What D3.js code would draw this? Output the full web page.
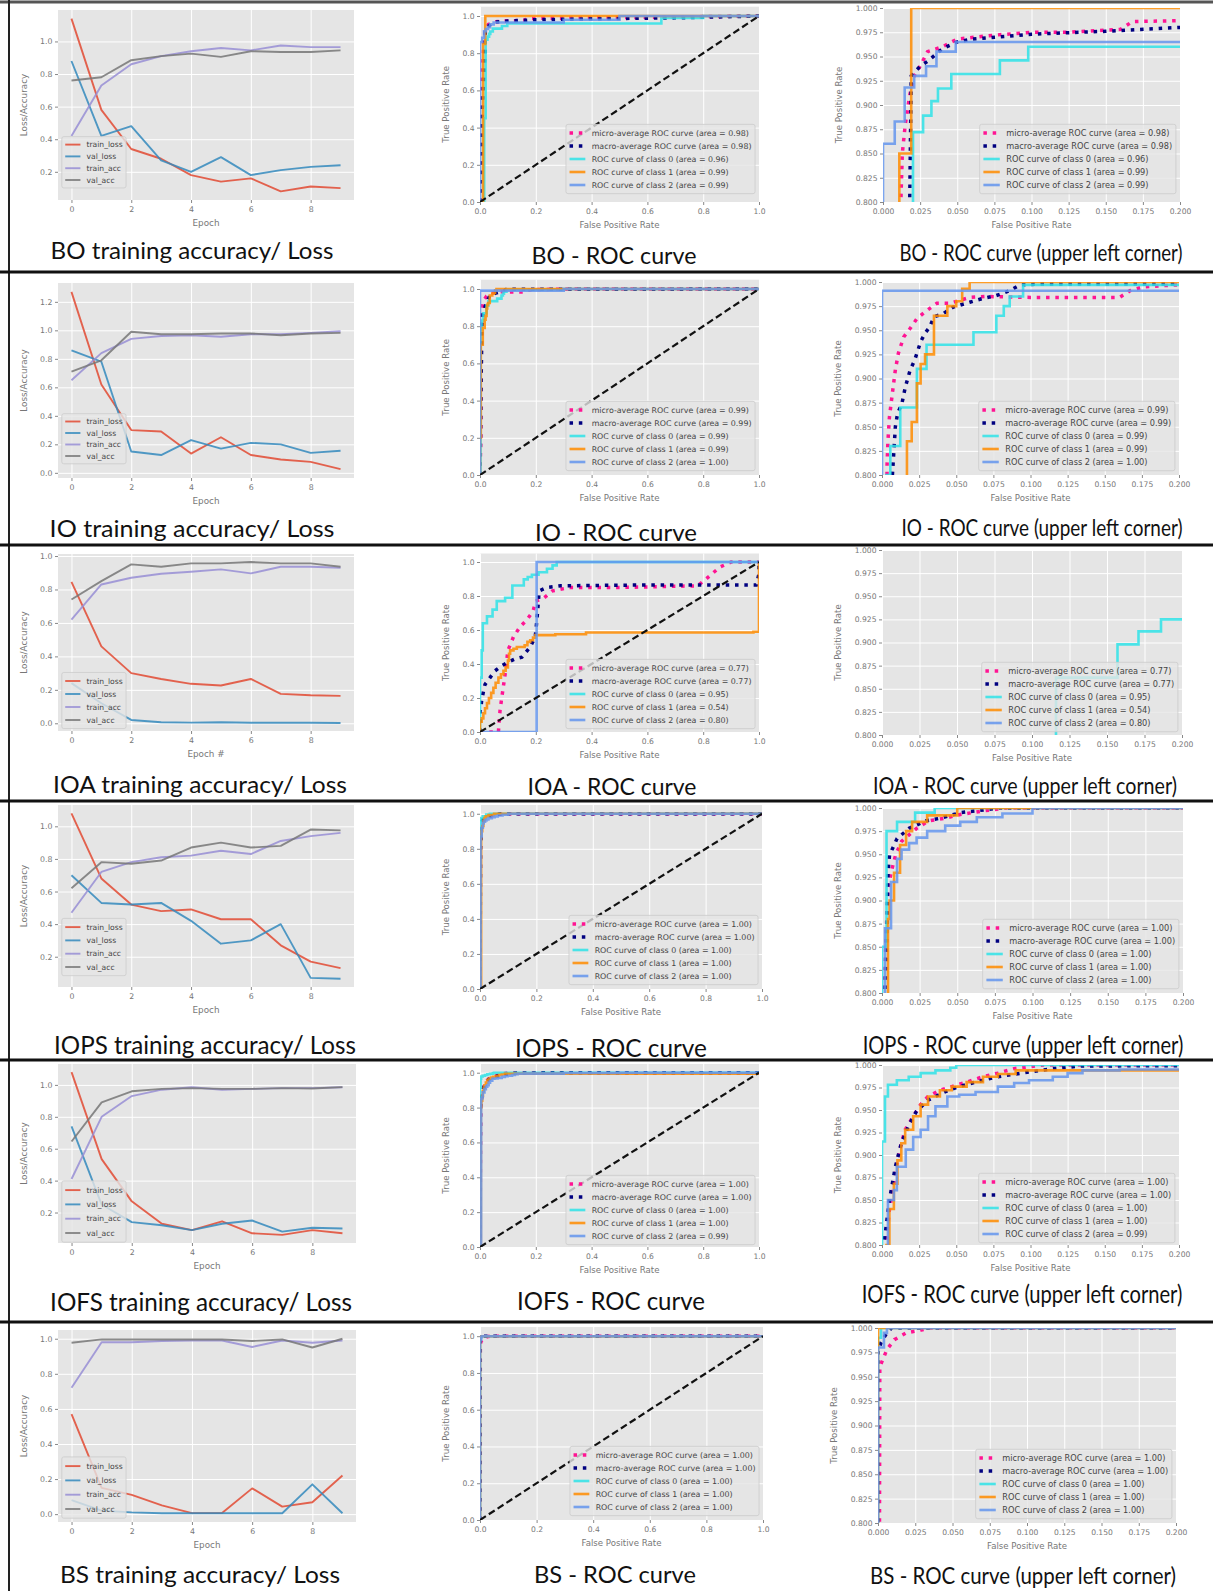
<!DOCTYPE html>
<html>
<head>
<meta charset="utf-8">
<script src="https://cdn.jsdelivr.net/npm/d3@7"></script>
<style>
  body { margin: 0; background: #fff; }
  svg text { font-family: "DejaVu Sans", sans-serif; }
  svg text.caption { font-family: Lato, "Open Sans", sans-serif; }
</style>
</head>
<body>
<svg id="fig"></svg>
<script>
// ---------------------------------------------------------------
// données : courbes loss / accuracy (10 epochs)
const epochs = d3.range(10);
const lossNames = ["train_loss", "val_loss", "train_acc", "val_acc"];

const boTrainLoss = [1.14, 0.58, 0.34, 0.28, 0.18, 0.14, 0.16, 0.08, 0.11, 0.10];
const boValLoss   = [0.88, 0.42, 0.48, 0.27, 0.20, 0.29, 0.18, 0.21, 0.23, 0.24];
const boTrainAcc  = [0.42, 0.73, 0.86, 0.91, 0.94, 0.96, 0.945, 0.975, 0.965, 0.965];
const boValAcc    = [0.76, 0.78, 0.885, 0.91, 0.925, 0.905, 0.94, 0.935, 0.935, 0.945];

const ioTrainLoss = [1.27, 0.62, 0.30, 0.29, 0.135, 0.25, 0.125, 0.094, 0.077, 0.026];
const ioValLoss   = [0.86, 0.78, 0.15, 0.125, 0.23, 0.17, 0.21, 0.20, 0.14, 0.155];
const ioTrainAcc  = [0.65, 0.84, 0.94, 0.96, 0.966, 0.955, 0.973, 0.973, 0.982, 0.994];
const ioValAcc    = [0.71, 0.79, 0.99, 0.973, 0.973, 0.978, 0.978, 0.966, 0.978, 0.982];

const ioaTrainLoss = [0.845, 0.46, 0.30, 0.265, 0.236, 0.226, 0.265, 0.176, 0.168, 0.164];
const ioaValLoss   = [0.24, 0.12, 0.02, 0.006, 0.004, 0.006, 0.003, 0.003, 0.003, 0.002];
const ioaTrainAcc  = [0.62, 0.83, 0.87, 0.894, 0.906, 0.92, 0.896, 0.936, 0.936, 0.93];
const ioaValAcc    = [0.74, 0.85, 0.95, 0.936, 0.956, 0.956, 0.964, 0.956, 0.956, 0.936];

const iopsTrainLoss = [1.08, 0.68, 0.52, 0.48, 0.49, 0.43, 0.43, 0.27, 0.17, 0.13];
const iopsValLoss   = [0.70, 0.53, 0.52, 0.53, 0.42, 0.28, 0.30, 0.40, 0.07, 0.065];
const iopsTrainAcc  = [0.47, 0.72, 0.78, 0.81, 0.82, 0.85, 0.83, 0.91, 0.94, 0.96];
const iopsValAcc    = [0.62, 0.78, 0.77, 0.79, 0.87, 0.90, 0.87, 0.88, 0.98, 0.975];

const iofsTrainLoss = [1.08, 0.535, 0.27, 0.13, 0.09, 0.145, 0.07, 0.06, 0.09, 0.07];
const iofsValLoss   = [0.74, 0.25, 0.14, 0.12, 0.09, 0.13, 0.15, 0.08, 0.105, 0.10];
const iofsTrainAcc  = [0.41, 0.80, 0.93, 0.97, 0.985, 0.97, 0.975, 0.98, 0.98, 0.985];
const iofsValAcc    = [0.645, 0.89, 0.96, 0.975, 0.98, 0.975, 0.975, 0.98, 0.977, 0.986];

const bsTrainLoss = [0.57, 0.15, 0.11, 0.05, 0.006, 0.006, 0.147, 0.043, 0.068, 0.22];
const bsValLoss   = [0.08, 0.02, 0.01, 0.005, 0.005, 0.005, 0.005, 0.005, 0.17, 0.005];
const bsTrainAcc  = [0.72, 0.98, 0.98, 0.987, 0.99, 0.99, 0.953, 0.99, 0.977, 0.99];
const bsValAcc    = [0.977, 0.996, 0.996, 0.996, 0.996, 0.996, 0.987, 0.996, 0.95, 1.0];

// ---------------------------------------------------------------
// données : courbes ROC [fpr, tpr]
// micro / macro : points reliés ; classes : marches (point = haut de la marche)
const boMicro = [[0,0],[0.004,0.4],[0.008,0.7],[0.012,0.8],[0.013,0.85],[0.015,0.88],[0.018,0.91],[0.021,0.93],[0.025,0.94],[0.03,0.955],[0.04,0.96],[0.05,0.968],[0.075,0.972],[0.1,0.975],[0.125,0.975],[0.16,0.978],[0.168,0.986],[0.2,0.987],[0.4,0.99],[0.7,0.995],[1,1]];
const boMacro = [[0,0],[0.008,0.5],[0.018,0.8],[0.019,0.93],[0.025,0.94],[0.03,0.945],[0.04,0.958],[0.05,0.965],[0.06,0.968],[0.1,0.973],[0.15,0.976],[0.2,0.98],[0.4,0.985],[0.7,0.99],[1,1]];
const boClass0 = [[0,0],[0.015,0.45],[0.0202,0.872],[0.027,0.889],[0.0326,0.904],[0.037,0.917],[0.046,0.932],[0.0787,0.946],[0.0978,0.96],[0.65,0.99],[0.8,1],[1,1]];
const boClass1 = [[0,0],[0.011,0.85],[0.019,1],[1,1]];
const boClass2 = [[0,0],[0,0.86],[0.0079,0.883],[0.0146,0.918],[0.021,0.93],[0.029,0.94],[0.036,0.955],[0.049,0.965],[0.3,0.98],[0.5,1],[1,1]];
const boAreas = ["0.98", "0.98", "0.96", "0.99", "0.99"];

const ioMicro = [[0,0],[0.003,0.2],[0.003,0.6],[0.0034,0.81],[0.004,0.835],[0.005,0.86],[0.007,0.885],[0.009,0.909],[0.011,0.926],[0.0146,0.943],[0.019,0.952],[0.0235,0.962],[0.029,0.969],[0.037,0.978],[0.046,0.978],[0.059,0.984],[0.07,0.985],[0.1,0.984],[0.16,0.984],[0.167,0.991],[0.176,0.995],[0.198,0.997],[0.35,1],[1,1]];
const ioMacro = [[0,0],[0.004,0.5],[0.007,0.8],[0.009,0.85],[0.0105,0.864],[0.0134,0.874],[0.0157,0.891],[0.019,0.909],[0.022,0.919],[0.026,0.938],[0.029,0.947],[0.032,0.953],[0.035,0.964],[0.041,0.967],[0.048,0.974],[0.059,0.979],[0.068,0.983],[0.077,0.986],[0.086,0.991],[0.093,0.997],[0.109,0.998],[0.2,0.998],[1,1]];
const ioClass0 = [[0,0],[0.002,0.78],[0.003,0.8],[0.0056,0.83],[0.0123,0.87],[0.0235,0.91],[0.03,0.935],[0.0616,0.948],[0.077,0.965],[0.082,0.975],[0.086,0.985],[0.095,0.997],[0.3,1],[1,1]];
const ioClass1 = [[0,0],[0,0.2],[0.003,0.7],[0.01,0.79],[0.0168,0.835],[0.02,0.855],[0.0235,0.895],[0.026,0.915],[0.029,0.925],[0.035,0.965],[0.044,0.975],[0.05,0.98],[0.054,0.993],[0.059,1],[1,1]];
const ioClass2 = [[0,0],[0,0.991],[0.3,1],[1,1]];
const ioAreas = ["0.99", "0.99", "0.99", "0.99", "1.00"];

const ioaMicro = [[0,0],[0.066,0],[0.068,0.05],[0.072,0.13],[0.078,0.2],[0.09,0.34],[0.1,0.48],[0.12,0.56],[0.144,0.62],[0.168,0.66],[0.19,0.71],[0.2,0.77],[0.23,0.79],[0.26,0.83],[0.32,0.85],[0.5,0.85],[0.78,0.86],[0.81,0.9],[0.86,0.97],[0.9,1],[1,1]];
const ioaMacro = [[0,0],[0,0.12],[0.004,0.15],[0.006,0.19],[0.018,0.28],[0.036,0.32],[0.054,0.36],[0.078,0.39],[0.1,0.41],[0.126,0.43],[0.15,0.44],[0.18,0.5],[0.198,0.56],[0.204,0.66],[0.208,0.74],[0.212,0.83],[0.24,0.85],[0.29,0.86],[0.6,0.865],[0.99,0.865],[1,0.93],[1,1]];
const ioaClass0 = [[0,0],[0,0.32],[0.006,0.48],[0.01,0.64],[0.025,0.68],[0.045,0.72],[0.06,0.77],[0.09,0.79],[0.116,0.862],[0.157,0.898],[0.171,0.912],[0.186,0.925],[0.21,0.94],[0.24,0.96],[0.26,0.98],[0.275,1],[1,1]];
const ioaClass1 = [[0,0],[0,0.06],[0.006,0.08],[0.012,0.11],[0.018,0.14],[0.025,0.17],[0.032,0.2],[0.04,0.23],[0.048,0.26],[0.056,0.29],[0.066,0.32],[0.075,0.34],[0.084,0.36],[0.092,0.38],[0.1,0.42],[0.104,0.46],[0.108,0.48],[0.12,0.49],[0.132,0.5],[0.16,0.51],[0.17,0.53],[0.18,0.54],[0.19,0.555],[0.198,0.57],[0.27,0.575],[0.38,0.585],[0.98,0.59],[1,0.6],[1,1]];
const ioaClass2 = [[0,0],[0.192,0],[0.203,0.03],[0.203,1],[1,1]];
const ioaAreas = ["0.77", "0.77", "0.95", "0.54", "0.80"];

const iopsMicro = [[0,0],[0.0015,0.8],[0.0026,0.857],[0.004,0.912],[0.006,0.93],[0.009,0.949],[0.013,0.964],[0.018,0.971],[0.023,0.978],[0.031,0.986],[0.042,0.989],[0.052,0.993],[0.068,0.997],[0.083,1],[1,1]];
const iopsMacro = [[0,0],[0.002,0.8],[0.003,0.85],[0.004,0.93],[0.005,0.949],[0.01,0.967],[0.018,0.978],[0.029,0.986],[0.039,0.989],[0.052,0.995],[0.063,0.997],[0.078,1],[1,1]];
const iopsClass0 = [[0,0],[0,0.85],[0.003,0.975],[0.01,0.985],[0.022,0.995],[0.035,1],[1,1]];
const iopsClass1 = [[0,0],[0.004,0.88],[0.005,0.9],[0.008,0.93],[0.012,0.96],[0.016,0.975],[0.02,0.985],[0.03,0.992],[0.05,1],[1,1]];
const iopsClass2 = [[0,0],[0.002,0.87],[0.006,0.92],[0.01,0.945],[0.013,0.955],[0.018,0.962],[0.023,0.968],[0.03,0.975],[0.042,0.981],[0.052,0.985],[0.063,0.99],[0.08,0.994],[0.1,1],[1,1]];
const iopsAreas = ["1.00", "1.00", "1.00", "1.00", "1.00"];

const iofsMicro = [[0,0],[0.0015,0.5],[0.0026,0.8],[0.005,0.839],[0.008,0.868],[0.0104,0.894],[0.013,0.913],[0.0156,0.928],[0.021,0.943],[0.026,0.956],[0.031,0.965],[0.039,0.972],[0.047,0.976],[0.057,0.981],[0.068,0.987],[0.078,0.991],[0.089,0.996],[0.109,1],[1,1]];
const iofsMacro = [[0,0],[0.001,0.5],[0.0016,0.805],[0.005,0.85],[0.009,0.887],[0.013,0.913],[0.018,0.933],[0.023,0.948],[0.031,0.961],[0.042,0.97],[0.052,0.976],[0.063,0.981],[0.078,0.987],[0.094,0.991],[0.115,0.996],[0.135,0.999],[1,1]];
const iofsClass0 = [[0,0],[0,0.915],[0.002,0.965],[0.004,0.978],[0.01,0.983],[0.018,0.987],[0.026,0.991],[0.036,0.994],[0.046,0.997],[0.05,1],[1,1]];
const iofsClass1 = [[0,0],[0.003,0.8],[0.005,0.84],[0.008,0.868],[0.0104,0.894],[0.013,0.913],[0.0156,0.928],[0.021,0.943],[0.026,0.956],[0.031,0.965],[0.039,0.972],[0.047,0.976],[0.057,0.981],[0.068,0.987],[0.078,0.99],[0.09,0.994],[1,1]];
const iofsClass2 = [[0,0],[0.004,0.85],[0.008,0.861],[0.01,0.887],[0.016,0.906],[0.021,0.92],[0.026,0.928],[0.031,0.943],[0.036,0.954],[0.044,0.965],[0.052,0.967],[0.063,0.97],[0.078,0.976],[0.089,0.98],[0.099,0.983],[0.115,0.987],[0.125,0.991],[0.135,0.994],[0.16,0.995],[0.3,0.998],[0.5,1],[1,1]];
const iofsAreas = ["1.00", "1.00", "1.00", "1.00", "0.99"];

const bsMicro = [[0,0],[0.0012,0.96],[0.0036,0.969],[0.006,0.978],[0.011,0.988],[0.019,0.995],[0.029,0.998],[0.035,1],[1,1]];
const bsMacro = [[0,0],[0,0.975],[0.002,0.985],[0.006,0.995],[0.009,1],[1,1]];
const bsClass0 = [[0,0],[0,0.99],[0.002,1],[1,1]];
const bsClass1 = [[0,0],[0,1],[1,1]];
const bsClass2 = [[0,0],[0,0.98],[0.004,0.995],[0.006,1],[1,1]];
const bsAreas = ["1.00", "1.00", "1.00", "1.00", "1.00"];

const rows = [
  { name: "BO",   xlabel: "Epoch",   loss: [boTrainLoss, boValLoss, boTrainAcc, boValAcc],         roc: [boMicro, boMacro, boClass0, boClass1, boClass2],         areas: boAreas },
  { name: "IO",   xlabel: "Epoch",   loss: [ioTrainLoss, ioValLoss, ioTrainAcc, ioValAcc],         roc: [ioMicro, ioMacro, ioClass0, ioClass1, ioClass2],         areas: ioAreas },
  { name: "IOA",  xlabel: "Epoch #", loss: [ioaTrainLoss, ioaValLoss, ioaTrainAcc, ioaValAcc],     roc: [ioaMicro, ioaMacro, ioaClass0, ioaClass1, ioaClass2],    areas: ioaAreas },
  { name: "IOPS", xlabel: "Epoch",   loss: [iopsTrainLoss, iopsValLoss, iopsTrainAcc, iopsValAcc], roc: [iopsMicro, iopsMacro, iopsClass0, iopsClass1, iopsClass2], areas: iopsAreas },
  { name: "IOFS", xlabel: "Epoch",   loss: [iofsTrainLoss, iofsValLoss, iofsTrainAcc, iofsValAcc], roc: [iofsMicro, iofsMacro, iofsClass0, iofsClass1, iofsClass2], areas: iofsAreas },
  { name: "BS",   xlabel: "Epoch",   loss: [bsTrainLoss, bsValLoss, bsTrainAcc, bsValAcc],         roc: [bsMicro, bsMacro, bsClass0, bsClass1, bsClass2],         areas: bsAreas }
];

// ---------------------------------------------------------------
// mise en page (pixels) : [gauche, droite, haut, bas] de chaque zone grise
// caps : [centre x, ligne de base, largeur] des légendes sous les images
const layout = [
  { loss: [58, 354, 10, 200],    lossLeg: [20, 11.8], roc: [480, 759, 6.7, 202],   zoom: [883, 1180, 8, 202],     rocLeg: 17, capSize: 24,
    caps: [[192, 259, 283], [614, 264, 165], [1041, 261, 283]] },
  { loss: [58, 354, 283, 478],   lossLeg: [22, 11.5], roc: [480, 759, 279.7, 475], zoom: [882, 1179, 282, 475],   rocLeg: 13, capSize: 24,
    caps: [[192, 537, 285], [616, 541, 162], [1042, 536, 281]] },
  { loss: [58, 354, 554, 731],   lossLeg: [11, 13],   roc: [480, 759, 553.5, 732], zoom: [882, 1182, 550, 735],   rocLeg: 12, capSize: 24,
    caps: [[200, 793, 294], [612, 795, 169], [1025, 794, 304]] },
  { loss: [58, 354, 805, 987],   lossLeg: [20, 13.3], roc: [480, 762, 805, 989],   zoom: [882, 1183, 808, 993],   rocLeg: 13, capSize: 25,
    caps: [[205, 1054, 302], [611, 1057, 192], [1023, 1054, 321]] },
  { loss: [58, 356, 1064, 1243], lossLeg: [10, 14.3], roc: [480, 759, 1064, 1247], zoom: [882, 1179, 1065, 1245], rocLeg: 11, capSize: 25,
    caps: [[201, 1311, 302], [611, 1310, 188], [1022, 1303, 321]] },
  { loss: [58, 356, 1330, 1522], lossLeg: [13, 14.3], roc: [480, 763, 1327, 1520], zoom: [878, 1176, 1328, 1523], rocLeg: 13, capSize: 24,
    caps: [[200, 1583, 280], [615, 1583, 162], [1023, 1584, 306]] }
];
const separators = [272, 545, 801, 1060, 1322];

const lossColors = ["#E24A33", "#348ABD", "#988ED5", "#777777"];
const rocStyles = [
  { color: "deeppink",       width: 3.5, dash: "3.5,5.8", step: false, label: "micro-average ROC curve" },
  { color: "navy",           width: 3.5, dash: "3.5,5.8", step: false, label: "macro-average ROC curve" },
  { color: "#2fe3e8",        width: 2.6, dash: null,      step: true,  label: "ROC curve of class 0" },
  { color: "darkorange",     width: 2.6, dash: null,      step: true,  label: "ROC curve of class 1" },
  { color: "cornflowerblue", width: 2.6, dash: null,      step: true,  label: "ROC curve of class 2" }
];

const W = 1213, H = 1591;
const svg = d3.select("#fig").attr("width", W).attr("height", H);
svg.append("rect").attr("width", W).attr("height", H).attr("fill", "#fff");

let clipCount = 0;

// création d'une zone de tracé (fond gris + grille + groupe clippé)
function panel(box, xDomain, yDomain) {
  const [l, r, t, b] = box;
  const x = d3.scaleLinear().domain(xDomain).range([l, r]);
  const y = d3.scaleLinear().domain(yDomain).range([b, t]);
  const g = svg.append("g");
  g.append("rect")
    .attr("x", l).attr("y", t)
    .attr("width", r - l).attr("height", b - t)
    .attr("fill", "#E5E5E5");
  const id = "clip" + (clipCount++);
  g.append("clipPath").attr("id", id)
    .append("rect")
    .attr("x", l).attr("y", t)
    .attr("width", r - l).attr("height", b - t);
  const grid = g.append("g");
  const plot = g.append("g").attr("clip-path", `url(#${id})`);
  return { g, grid, plot, x, y, box };
}

// axes, grille et titres d'axes
function axes(p, xt, yt, fx, fy, xlabel, ylabel, fs, ylabOff) {
  const { g, grid, x, y, box: [l, r, t, b] } = p;

  grid.append("g")
    .attr("transform", `translate(0,${b})`)
    .call(d3.axisBottom(x).tickValues(xt).tickSize(-(b - t)).tickFormat(""))
    .call(s => s.select(".domain").remove())
    .call(s => s.selectAll("line").attr("stroke", "#fff").attr("stroke-width", 1));
  grid.append("g")
    .attr("transform", `translate(${l},0)`)
    .call(d3.axisLeft(y).tickValues(yt).tickSize(-(r - l)).tickFormat(""))
    .call(s => s.select(".domain").remove())
    .call(s => s.selectAll("line").attr("stroke", "#fff").attr("stroke-width", 1));

  const ax = g.append("g")
    .attr("transform", `translate(0,${b})`)
    .call(d3.axisBottom(x).tickValues(xt).tickFormat(fx).tickSize(3).tickPadding(3.5));
  const ay = g.append("g")
    .attr("transform", `translate(${l},0)`)
    .call(d3.axisLeft(y).tickValues(yt).tickFormat(fy).tickSize(3).tickPadding(2.5));
  [ax, ay].forEach(a => {
    a.select(".domain").remove();
    a.selectAll("line").attr("stroke", "#888");
    a.selectAll("text")
      .attr("fill", "#777")
      .attr("font-size", fs)
      .attr("font-family", "DejaVu Sans");
  });

  g.append("text")
    .attr("x", (l + r) / 2).attr("y", b + 26)
    .attr("text-anchor", "middle")
    .attr("font-size", fs + 1)
    .attr("fill", "#777")
    .text(xlabel);
  g.append("text")
    .attr("transform", `translate(${l - ylabOff},${(t + b) / 2}) rotate(-90)`)
    .attr("text-anchor", "middle")
    .attr("font-size", fs + 1)
    .attr("fill", "#777")
    .text(ylabel);
}

// légende façon matplotlib (fond gris semi-opaque)
function legend(p, items, where, f, pitch, offset) {
  const { g, box: [l, r, t, b] } = p;
  const lg = g.append("g");
  const bg = lg.append("rect");
  const hl = 2 * f, gap = 0.8 * f, pad = 0.45 * f, axpad = 0.5 * f;
  const texts = items.map(d => lg.append("text")
    .attr("font-size", f)
    .attr("fill", "#444")
    .text(d.label));
  const tw = d3.max(texts, s => s.node().getComputedTextLength());
  const width = pad + hl + gap + tw + pad;
  const left = where === "left" ? l + axpad : r - axpad - width;
  const n = items.length;
  const lastY = b - offset;
  items.forEach((d, i) => {
    const cy = lastY - (n - 1 - i) * pitch;
    lg.append("line")
      .attr("x1", left + pad).attr("x2", left + pad + hl)
      .attr("y1", cy).attr("y2", cy)
      .attr("stroke", d.color)
      .attr("stroke-width", d.width)
      .attr("stroke-dasharray", d.dash)
      .attr("stroke-opacity", d.opacity || 1);
    texts[i].attr("x", left + pad + hl + gap).attr("y", cy).attr("dy", "0.35em");
  });
  const top = lastY - (n - 1) * pitch - pitch / 2 - pad * 0.6;
  bg.attr("x", left).attr("y", top)
    .attr("width", width).attr("height", (lastY + pitch / 2 + pad * 0.6) - top)
    .attr("rx", 2)
    .attr("fill", "#E5E5E5").attr("fill-opacity", 0.8)
    .attr("stroke", "#cccccc").attr("stroke-width", 0.8);
}

// graphique loss / accuracy
function drawLoss(row, lay) {
  const all = row.loss.flat();
  const lo = d3.min(all), hi = d3.max(all), m = (hi - lo) * 0.05;
  const p = panel(lay.loss, [-0.45, 9.45], [lo - m, hi + m]);
  axes(p, [0, 2, 4, 6, 8], p.y.ticks(6), d3.format("d"), d3.format(".1f"),
       row.xlabel, "Loss/Accuracy", 7.8, 31);
  const line = d3.line().x((d, i) => p.x(epochs[i])).y(d => p.y(d));
  row.loss.forEach((s, k) => {
    p.plot.append("path")
      .attr("d", line(s))
      .attr("fill", "none")
      .attr("stroke", lossColors[k])
      .attr("stroke-opacity", 0.85)
      .attr("stroke-width", 1.9)
      .attr("stroke-linejoin", "round");
  });
  legend(p, lossNames.map((nm, k) => ({ label: nm, color: lossColors[k], width: 1.9, opacity: 0.85 })),
         "left", 7.6, lay.lossLeg[1], lay.lossLeg[0]);
}

// graphique ROC (complet ou zoom coin supérieur gauche)
function drawRoc(row, lay, zoomed) {
  const p = zoomed
    ? panel(lay.zoom, [0, 0.2], [0.8, 1.0])
    : panel(lay.roc, [0, 1], [0, 1.05]);
  const xt = zoomed ? d3.range(0, 0.2001, 0.025) : d3.range(0, 1.0001, 0.2);
  const yt = zoomed ? d3.range(0.8, 1.0001, 0.025) : d3.range(0, 1.0001, 0.2);
  const fmt = zoomed ? d3.format(".3f") : d3.format(".1f");
  axes(p, xt, yt, fmt, fmt, "False Positive Rate", "True Positive Rate", 7.6, zoomed ? 41 : 31);

  row.roc.forEach((pts, k) => {
    const st = rocStyles[k];
    const line = d3.line()
      .x(d => p.x(d[0])).y(d => p.y(d[1]))
      .curve(st.step ? d3.curveStepAfter : d3.curveLinear);
    p.plot.append("path")
      .attr("d", line(pts))
      .attr("fill", "none")
      .attr("stroke", st.color)
      .attr("stroke-width", st.width)
      .attr("stroke-dasharray", st.dash)
      .attr("stroke-opacity", st.step ? 0.85 : 1);
  });
  // diagonale
  p.plot.append("line")
    .attr("x1", p.x(0)).attr("y1", p.y(0))
    .attr("x2", p.x(1)).attr("y2", p.y(1))
    .attr("stroke", "#111").attr("stroke-width", 2.2)
    .attr("stroke-dasharray", "7,3.5");

  legend(p, rocStyles.map((st, k) => ({
      label: `${st.label} (area = ${row.areas[k]})`,
      color: st.color, width: st.width, dash: st.dash, opacity: st.step ? 0.85 : 1
    })), "right", zoomed ? 8.2 : 7.9, 13, lay.rocLeg);
}

rows.forEach((row, i) => {
  const lay = layout[i];
  drawLoss(row, lay);
  drawRoc(row, lay, false);
  drawRoc(row, lay, true);

  // légendes sous les images : largeur ajustée par une mise à l'échelle horizontale
  const caps = [`${row.name} training accuracy/ Loss`, `${row.name} - ROC curve`,
                `${row.name} - ROC curve (upper left corner)`];
  caps.forEach((c, k) => {
    const [cx, cy, w] = lay.caps[k];
    const t = svg.append("text")
      .attr("class", "caption")
      .attr("text-anchor", "middle")
      .attr("font-size", lay.capSize)
      .attr("fill", "#111")
      .text(c);
    const natural = t.node().getComputedTextLength();
    t.attr("transform", `translate(${cx},${cy}) scale(${w / natural},1)`);
  });
});

// cadres et séparateurs
svg.append("line").attr("x1", 0).attr("x2", W).attr("y1", 2).attr("y2", 2)
  .attr("stroke", "#555").attr("stroke-width", 3);
svg.append("line").attr("x1", 9).attr("x2", 9).attr("y1", 0).attr("y2", H)
  .attr("stroke", "#222").attr("stroke-width", 2);
separators.forEach(yy => {
  svg.append("line").attr("x1", 0).attr("x2", W).attr("y1", yy).attr("y2", yy)
    .attr("stroke", "#111").attr("stroke-width", 3);
});
</script>
</body>
</html>
